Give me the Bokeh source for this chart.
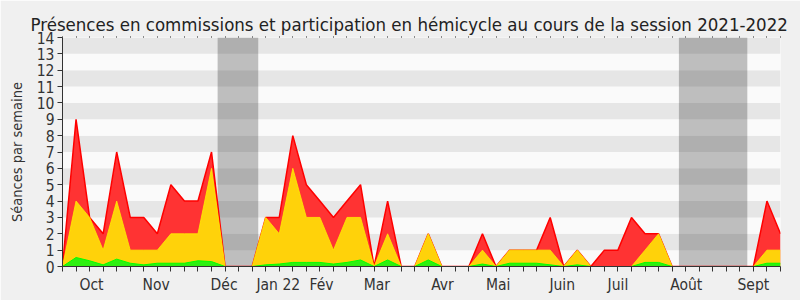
from bokeh.plotting import figure
from bokeh.models import (Range1d, FixedTicker, LinearAxis, ColumnDataSource)
from bokeh.embed import file_html
from bokeh.resources import INLINE

# ---- data (weekly, session 2021-2022) ----
weeks = list(range(54))
commissions = [0, 9, 3, 2, 7, 3, 3, 2, 5, 4, 4, 7, 0, 0, 0, 3, 3, 8, 5, 4,
               3, 4, 5, 0, 4, 0, 0, 2, 0, 0, 0, 2, 0, 1, 1, 1, 3, 0, 1, 0,
               1, 1, 3, 2, 2, 0, 0, 0, 0, 0, 0, 0, 4, 2]
hemicycle = [0, 4, 3, 1, 4, 1, 1, 1, 2, 2, 2, 6, 0, 0, 0, 3, 2, 6, 3, 3,
             1, 3, 3, 0, 2, 0, 0, 2, 0, 0, 0, 1, 0, 1, 1, 1, 1, 0, 1, 0,
             0, 0, 0, 1, 2, 0, 0, 0, 0, 0, 0, 0, 1, 1]
interventions = [0, 0.55, 0.35, 0.1, 0.45, 0.2, 0.1, 0.2, 0.2, 0.2, 0.35, 0.3, 0, 0, 0, 0.1,
                 0.15, 0.25, 0.25, 0.25, 0.15, 0.25, 0.4, 0, 0.4, 0, 0, 0.4, 0, 0,
                 0, 0.15, 0, 0.2, 0.2, 0.2, 0.1, 0, 0.1, 0, 0, 0, 0, 0.25, 0.25,
                 0, 0, 0, 0, 0, 0, 0, 0.2, 0.2]
month_labels = ["Oct", "Nov", "Déc", "Jan 22", "Fév", "Mar", "Avr", "Mai", "Juin", "Juil", "Août", "Sept"]
month_pos = [2.14, 6.91, 11.93, 15.93, 19.12, 23.2, 28.05, 32.16, 36.89, 41.0, 46.04, 51.0]
vac_start = [11.45, 45.5]
vac_end = [14.45, 50.55]
y_ticks = list(range(15))

FONT = "DejaVu Sans Condensed"
TXT = "#333333"

p = figure(width=800, height=300, x_range=Range1d(0, 53), y_range=Range1d(0, 14),
           output_backend="svg", toolbar_location=None,
           min_border_left=62, min_border_right=20, min_border_top=37, min_border_bottom=34)
p.border_fill_color = "#f0f0f0"
p.background_fill_color = "#fafafa"
p.outline_line_color = None
p.grid.visible = False

p.title.text = "Présences en commissions et participation en hémicycle au cours de la session 2021-2022"
p.title.align = "left"
p.title.text_font = FONT
p.title.text_font_size = "18.5px"
p.title.text_font_style = "normal"
p.title.text_color = "#222222"
p.title.offset = -32
p.title.standoff = 3

# horizontal bands
band_bottom = y_ticks[:-1]
band_color = ["#e6e6e6" if k % 2 == 1 else "#fafafa" for k in band_bottom]
p.quad(left=0, right=53, bottom=band_bottom, top=[k + 1 for k in band_bottom],
       fill_color=band_color, line_color=None)

# vacation shading
p.quad(left=vac_start, right=vac_end, bottom=0, top=14, fill_color="black",
       fill_alpha=0.24, line_color=None)

src = ColumnDataSource(dict(x=weeks, c=commissions, h=hemicycle, i=interventions))
p.varea(x="x", y1=0, y2="c", source=src, fill_color="#ff3333", fill_alpha=1)
p.line(x="x", y="c", source=src, line_color="#ff0000", line_width=1.5)
p.varea(x="x", y1=0, y2="h", source=src, fill_color="#ffd20a", fill_alpha=1)
p.line(x="x", y="h", source=src, line_color="#ffee00", line_width=1, line_alpha=0.8)
p.varea(x="x", y1=0, y2="i", source=src, fill_color="#2ef010", fill_alpha=1)
p.line(x="x", y="i", source=src, line_color="#00ff00", line_width=1)

# y axis
ya = p.yaxis[0]
ya.ticker = FixedTicker(ticks=y_ticks)
ya.major_tick_out = 5
ya.major_tick_in = 0
ya.minor_tick_line_color = None
ya.major_label_standoff = 3
ya.axis_line_color = TXT
ya.major_tick_line_color = TXT
ya.major_label_text_font = FONT
ya.major_label_text_font_size = "15.5px"
ya.major_label_text_color = TXT
ya.axis_label = "Séances par semaine"
ya.axis_label_text_font = FONT
ya.axis_label_text_font_size = "14.5px"
ya.axis_label_text_font_style = "normal"
ya.axis_label_text_color = TXT
ya.axis_label_standoff = 9

# x axis
xa = p.xaxis[0]
xa.ticker = FixedTicker(ticks=month_pos, minor_ticks=weeks)
xa.major_label_overrides = {pos: lab for pos, lab in zip(month_pos, month_labels)}
xa.major_tick_out = 0
xa.major_tick_in = 0
xa.major_tick_line_color = None
xa.minor_tick_out = 5
xa.minor_tick_in = 0
xa.minor_tick_line_color = TXT
xa.axis_line_color = TXT
xa.major_label_standoff = 4
xa.major_label_text_font = FONT
xa.major_label_text_font_size = "15.5px"
xa.major_label_text_color = TXT

# top dotted ticks
ta = LinearAxis(ticker=FixedTicker(ticks=[], minor_ticks=weeks), axis_line_color=None,
                major_tick_line_color=None, minor_tick_out=1, minor_tick_in=0,
                minor_tick_line_color="#222222", major_label_text_font_size="0px")
p.add_layout(ta, "above")

open("out.html", "w").write(file_html(p, INLINE))
